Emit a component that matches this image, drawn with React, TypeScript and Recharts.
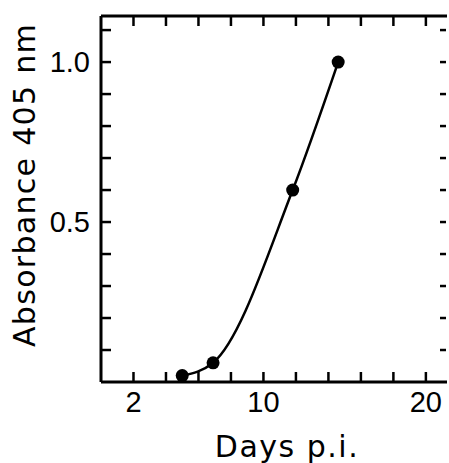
import { LineChart, Line, XAxis, YAxis, Label } from "recharts";

const DAYS = [5, 6.9, 11.8, 14.6];
const ABSORBANCE = [0.02, 0.06, 0.6, 1.0];
const X_TICKS = [2, 4, 6, 8, 10, 12, 14, 16, 18, 20];
const X_LABELS = [2, 10, 20];
const Y_TICKS = [0.1, 0.2, 0.3, 0.4, 0.5, 0.6, 0.7, 0.8, 0.9, 1.0, 1.1];
const Y_LABELS = ["0.5", "1.0"];

const data = DAYS.map((day, i) => ({ day, abs: ABSORBANCE[i] }));

const FONT = "'DejaVu Sans', sans-serif";
const NUM_FONT = "'Liberation Sans', Arial, sans-serif";
const axisLine = { stroke: "#000", strokeWidth: 3 };
const X_DOMAIN = [0, 21.3];
const Y_DOMAIN = [0, 1.144];

const BottomTick = ({ x, y, payload }: any) => (
  <g>
    <line x1={x} x2={x} y1={y} y2={y - 10} stroke="#000" strokeWidth={2.5} />
    {X_LABELS.includes(payload.value) && (
      <text x={x} y={y + 30} textAnchor="middle" fontSize={29} fontFamily={NUM_FONT} fill="#000">
        {payload.value}
      </text>
    )}
  </g>
);

const TopTick = ({ x, y }: any) => (
  <line x1={x} x2={x} y1={y} y2={y + 10} stroke="#000" strokeWidth={2.5} />
);

const LeftTick = ({ x, y, payload }: any) => {
  const txt = Number(payload.value).toFixed(1);
  return (
    <g>
      <line x1={x} x2={x + 10} y1={y} y2={y} stroke="#000" strokeWidth={2.5} />
      {Y_LABELS.includes(txt) && (
        <text x={x - 11} y={y + 10} textAnchor="end" fontSize={29} fontFamily={NUM_FONT} fill="#000">
          {txt}
        </text>
      )}
    </g>
  );
};

// right frame is cut off by the picture edge, only the tick stubs show
const RightTick = ({ x, y }: any) => (
  <line x1={x - 1} x2={x - 7} y1={y} y2={y} stroke="#000" strokeWidth={2.5} />
);

const YTitle = () => (
  <text
    x={0}
    y={0}
    transform="translate(35,185) rotate(-90)"
    textAnchor="middle"
    fontSize={30}
    letterSpacing={1.3}
    fontFamily={FONT}
    fill="#000"
  >
    Absorbance 405 nm
  </text>
);

export default function App() {
  return (
    <div style={{ position: "absolute", left: 0, top: 0, width: 449, height: 463, background: "#fff" }}>
      <LineChart width={449} height={463} data={data} margin={{ top: 15, right: 1, bottom: 0, left: 0 }}>
        <XAxis
          xAxisId="b"
          dataKey="day"
          type="number"
          domain={X_DOMAIN}
          ticks={X_TICKS}
          allowDataOverflow
          orientation="bottom"
          height={81}
          tickSize={0}
          tickMargin={0}
          tickLine={false}
          axisLine={axisLine}
          tick={BottomTick}
          interval={0}
        >
          <Label value="Days p.i." position="insideBottom" offset={6} dx={13} fontSize={30} letterSpacing={1.5} fontFamily={FONT} fill="#000" />
        </XAxis>
        <XAxis
          xAxisId="t"
          dataKey="day"
          type="number"
          domain={X_DOMAIN}
          ticks={X_TICKS}
          allowDataOverflow
          orientation="top"
          height={1}
          tickSize={0}
          tickMargin={0}
          tickLine={false}
          axisLine={axisLine}
          tick={TopTick}
          interval={0}
        />
        <YAxis
          yAxisId="l"
          type="number"
          domain={Y_DOMAIN}
          ticks={Y_TICKS}
          allowDataOverflow
          width={101}
          tickSize={0}
          tickMargin={0}
          tickLine={false}
          axisLine={axisLine}
          tick={LeftTick}
          interval={0}
        >
          <Label content={YTitle} />
        </YAxis>
        <YAxis
          yAxisId="r"
          type="number"
          orientation="right"
          domain={Y_DOMAIN}
          ticks={Y_TICKS}
          allowDataOverflow
          width={1}
          tickSize={0}
          tickMargin={0}
          tickLine={false}
          axisLine={false}
          tick={RightTick}
          interval={0}
        />
        <Line
          xAxisId="b"
          yAxisId="l"
          dataKey="abs"
          type="monotone"
          stroke="#000"
          strokeWidth={2.5}
          dot={{ r: 6.5, fill: "#000", stroke: "#000", strokeWidth: 0 }}
          isAnimationActive={false}
        />
        <Line
          xAxisId="t"
          yAxisId="r"
          dataKey="abs"
          stroke="none"
          dot={false}
          activeDot={false}
          legendType="none"
          isAnimationActive={false}
        />
      </LineChart>
    </div>
  );
}
